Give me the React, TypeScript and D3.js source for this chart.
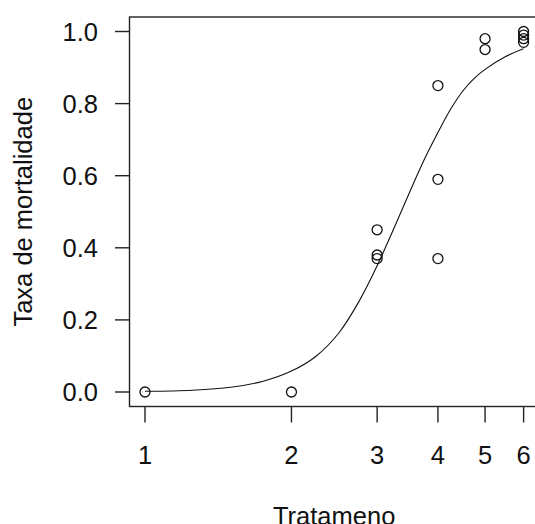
import React from 'react'
import * as d3 from 'd3'

// observed mortality rates per treatment
const obsDose = [1, 2, 3, 3, 3, 4, 4, 4, 5, 5, 6, 6, 6, 6]
const obsRate = [0, 0, 0.45, 0.38, 0.37, 0.85, 0.59, 0.37, 0.98, 0.95, 1.0, 0.99, 0.98, 0.97]

// fitted curve
const fitDose = [1, 1.25, 1.5, 1.75, 2, 2.25, 2.5, 2.75, 3, 3.25, 3.5, 3.75, 4, 4.25, 4.5, 4.75, 5, 5.5, 6]
const fitRate = [0.002, 0.005, 0.013, 0.03, 0.058, 0.1, 0.163, 0.25, 0.35, 0.455, 0.555, 0.645, 0.72, 0.785, 0.835, 0.87, 0.895, 0.93, 0.952]

const xTicks = [1, 2, 3, 4, 5, 6]
const yTicks = [0, 0.2, 0.4, 0.6, 0.8, 1.0]

const W = 535
const H = 524
const font = '"Liberation Sans", Arial, sans-serif'
const fs = 25.5

export default function App() {
  const x = d3.scaleLog().domain([1, 6]).range([145, 523.6])
  const y = d3.scaleLinear().domain([0, 1]).range([392, 31.5])

  // R style: 4% padding around the data range
  const left = 129.5, right = 538.8, top = 17, bottom = 406.5

  const line = d3.line<number>()
    .x((d, i) => x(fitDose[i]))
    .y(d => y(d))
    .curve(d3.curveCatmullRom.alpha(0.5))

  return (
    <svg width={W} height={H} style={{ position: 'absolute', left: 0, top: 0, background: '#fff' }}
      fontFamily={font}>
      <rect x={left} y={top} width={right - left} height={bottom - top}
        fill="none" stroke="#222" strokeWidth={1.4} />

      {/* y axis */}
      {yTicks.map(t => (
        <g key={t}>
          <line x1={115} x2={left} y1={y(t)} y2={y(t)} stroke="#222" strokeWidth={1.4} />
          <text x={98} y={y(t) + 9.2} textAnchor="end" fontSize={fs} fill="#111">{t.toFixed(1)}</text>
        </g>
      ))}

      {/* x axis */}
      {xTicks.map(t => (
        <g key={t}>
          <line x1={x(t)} x2={x(t)} y1={bottom} y2={422.5} stroke="#222" strokeWidth={1.4} />
          <text x={x(t)} y={463.5} textAnchor="middle" fontSize={fs} fill="#111">{t}</text>
        </g>
      ))}

      <text x={(left + right) / 2} y={525} textAnchor="middle" fontSize={fs} fill="#111">Tratameno</text>
      <text transform={`translate(32.3,${(top + bottom) / 2}) rotate(-90)`} textAnchor="middle"
        fontSize={fs} fill="#111">Taxa de mortalidade</text>

      <path d={line(fitRate) ?? ''} fill="none" stroke="#111" strokeWidth={1.1} />

      {obsRate.map((r, i) => (
        <circle key={i} cx={x(obsDose[i])} cy={y(r)} r={5} fill="none" stroke="#111" strokeWidth={1.3} />
      ))}
    </svg>
  )
}
